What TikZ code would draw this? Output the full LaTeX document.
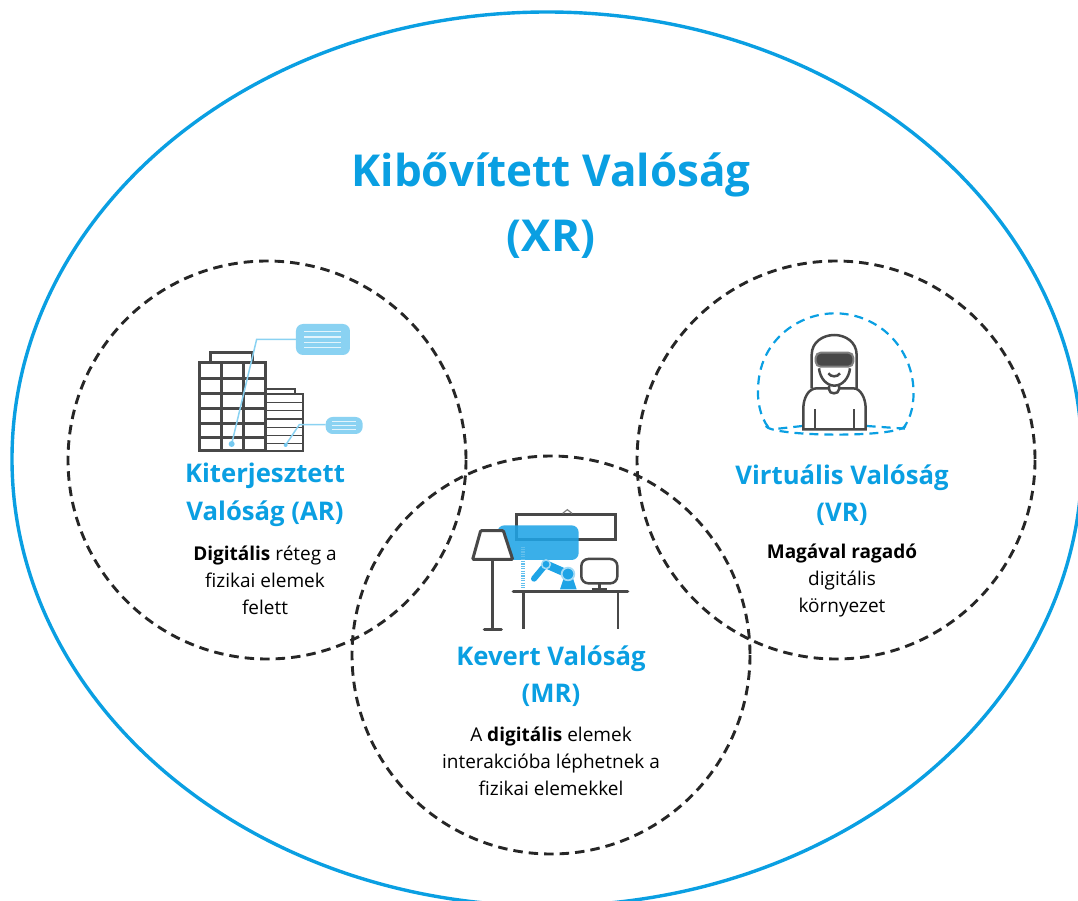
\documentclass[tikz,border=0pt]{standalone}
\usepackage{fontspec}
\setmainfont{Open Sans}
\definecolor{xrblue}{HTML}{0A9FE2}
\definecolor{iconblue}{HTML}{1FA4E6}
\definecolor{bubbleblue}{HTML}{8AD2F2}
\definecolor{icongray}{HTML}{484848}
\tikzset{
  realm/.style={draw=black!85,line width=2.9pt,dash pattern=on 9.5pt off 6pt},
  bigtitle/.style={text=xrblue,align=center,font=\fontsize{44}{65}\selectfont\bfseries},
  subtitle/.style={text=xrblue,align=center,font=\fontsize{25.7}{37.5}\selectfont\bfseries},
  bodytext/.style={text=black,align=center,font=\fontsize{19}{27}\selectfont},
  icon/.style={draw=icongray,line width=2.5pt},
  leader/.style={draw=bubbleblue,line width=1.5pt},
  domeline/.style={draw=xrblue,line width=2.2pt,dash pattern=on 9pt off 6pt},
}
\begin{document}
\begin{tikzpicture}[x=1pt,y=-1pt]
\useasboundingbox (0,0) rectangle (1078,901);

% kulso ellipszis
\draw[xrblue,line width=3.4pt] (547,459) ellipse (535 and 447);

% korok
\draw[realm] (267,460) circle (199);
\draw[realm] (836,460) circle (199);
\draw[realm] (551,655) circle (199);

% cimek
\node[bigtitle] (xrtitle) at (551,206) {Kibővített Valóság\\(XR)};
\node[subtitle] (artitle) at (265,495) {Kiterjesztett\\Valóság (AR)};
\node[bodytext] (artext) at (265,580) {\textbf{Digitális} réteg a\\fizikai elemek\\felett};
\node[subtitle] (vrtitle) at (842,495) {Virtuális Valóság\\(VR)};
\node[bodytext] (vrtext) at (842,580) {\textbf{Magával ragadó}\\digitális\\környezet};
\node[subtitle] (mrtitle) at (551,676) {Kevert Valóság\\(MR)};
\node[bodytext] (mrtext) at (551,761) {A \textbf{digitális} elemek\\interakcióba léphetnek a\\fizikai elemekkel};

% epulet
\begin{scope}[shift={(170,310)},x=0.3333pt,y=-0.3333pt]
\draw[icon] (122,158) -- (122,128) -- (248,128) -- (248,158);
\draw[icon] (88,158) rectangle (287,422);
\foreach \xcol in {155,220} \draw[icon] (\xcol,158) -- (\xcol,422);
\foreach \yrow in {205,250,295,340,382} \draw[icon] (88,\yrow) -- (287,\yrow);
\draw[icon,line width=1.8pt] (287,237) -- (375,237) -- (375,252);
\draw[icon,line width=1.8pt] (287,252) -- (400,252) -- (400,422) -- (287,422);
\foreach \yrow in {278,302,327,352,377,400} \draw[icon,line width=1.6pt] (287,\yrow) -- (400,\yrow);
\draw[leader] (378,88) -- (260,88) -- (185,402);
\fill[bubbleblue!80!iconblue] (185,402) circle (9);
\fill[bubbleblue,rounded corners=7pt] (378,42) rectangle (540,135);
\foreach \yrow in {65,81,97,113} \draw[white!75!bubbleblue,line width=1.2pt] (403,\yrow) -- (513,\yrow);
\draw[leader] (467,344) -- (388,344) -- (347,405);
\fill[bubbleblue!80!iconblue] (347,405) circle (6);
\fill[bubbleblue,rounded corners=7pt] (467,321) rectangle (578,372);
\foreach \yrow in {335,346,358} \draw[white!75!bubbleblue,line width=1.2pt] (485,\yrow) -- (558,\yrow);
\end{scope}

% szoba
\begin{scope}[shift={(460,500)},x=0.3333pt,y=-0.3333pt]
\draw[icon,line width=3pt] (170,42) rectangle (468,117);
\draw[gray,line width=1.2pt] (308,40) -- (322,29) -- (336,40);
\fill[iconblue,fill opacity=.88,rounded corners=7pt] (112,76) rectangle (356,180);
\draw[icon,line width=3pt,fill=white,rounded corners=1pt] (62,92) -- (130,92) -- (158,178) -- (38,178) -- cycle;
\draw[icon,line width=3pt] (98,178) -- (98,388);
\draw[icon,line width=3.2pt,line cap=round] (73,388) -- (124,388);
\draw[iconblue!70!white,line width=4pt,dash pattern=on 1.2pt off 1.2pt] (190,140) -- (190,263);
\fill[iconblue] (300,268) -- (350,268) -- (338,232) -- (312,232) -- cycle;
\draw[iconblue,line width=6pt,line cap=round] (222,236) -- (258,193);
\draw[iconblue,line width=8pt] (258,193) -- (324,222);
\filldraw[fill=iconblue,draw=white!60!iconblue,line width=1.5pt] (258,193) circle (13);
\filldraw[fill=iconblue,draw=white!60!iconblue,line width=1.8pt] (324,222) circle (19);
\draw[icon,line width=3.4pt,line cap=round] (160,275) -- (503,275);
\draw[icon,line width=2.8pt] (190,275) -- (190,388);
\draw[icon,line width=2.8pt] (474,275) -- (474,388);
\draw[icon,rounded corners=7pt] (364,177) rectangle (472,250);
\draw[icon] (418,250) -- (418,266);
\draw[icon] (395,268) -- (440,268);
\end{scope}

% szemely
\begin{scope}[shift={(745,320)},x=0.3333pt,y=-0.3333pt]
\draw[domeline] (70,322) .. controls (45,290) and (35,240) .. (40,190) .. controls (50,60) and (160,-20) .. (270,-20) .. controls (390,-20) and (495,70) .. (505,200) .. controls (508,250) and (500,290) .. (475,325);
\draw[domeline] (62,318) .. controls (80,350) and (450,355) .. (482,318);
\draw[domeline] (100,326) -- (172,318);
\draw[domeline] (365,318) -- (480,326);
\fill[white] (175,205) rectangle (362,328);
\draw[icon] (200,205) -- (200,105) .. controls (200,65) and (235,45) .. (268,45) .. controls (300,45) and (335,65) .. (335,105) -- (335,205);
\draw[icon] (222,145) .. controls (225,175) and (245,197) .. (268,197) .. controls (292,197) and (312,175) .. (315,145);
\draw[icon] (250,160) .. controls (258,172) and (277,172) .. (285,160);
\draw[icon] (252,197) -- (252,208) .. controls (252,224) and (282,224) .. (282,208) -- (282,197);
\draw[icon] (252,205) -- (215,205) .. controls (190,205) and (175,235) .. (175,265) -- (175,328) -- (362,328) -- (362,265) .. controls (362,235) and (347,205) .. (325,205) -- (282,205);
\draw[icon] (210,268) -- (210,328);
\draw[icon] (327,268) -- (327,328);
\filldraw[fill=icongray,draw=gray,line width=2pt,rounded corners=5pt] (212,98) rectangle (325,140);
\end{scope}

\end{tikzpicture}
\end{document}
